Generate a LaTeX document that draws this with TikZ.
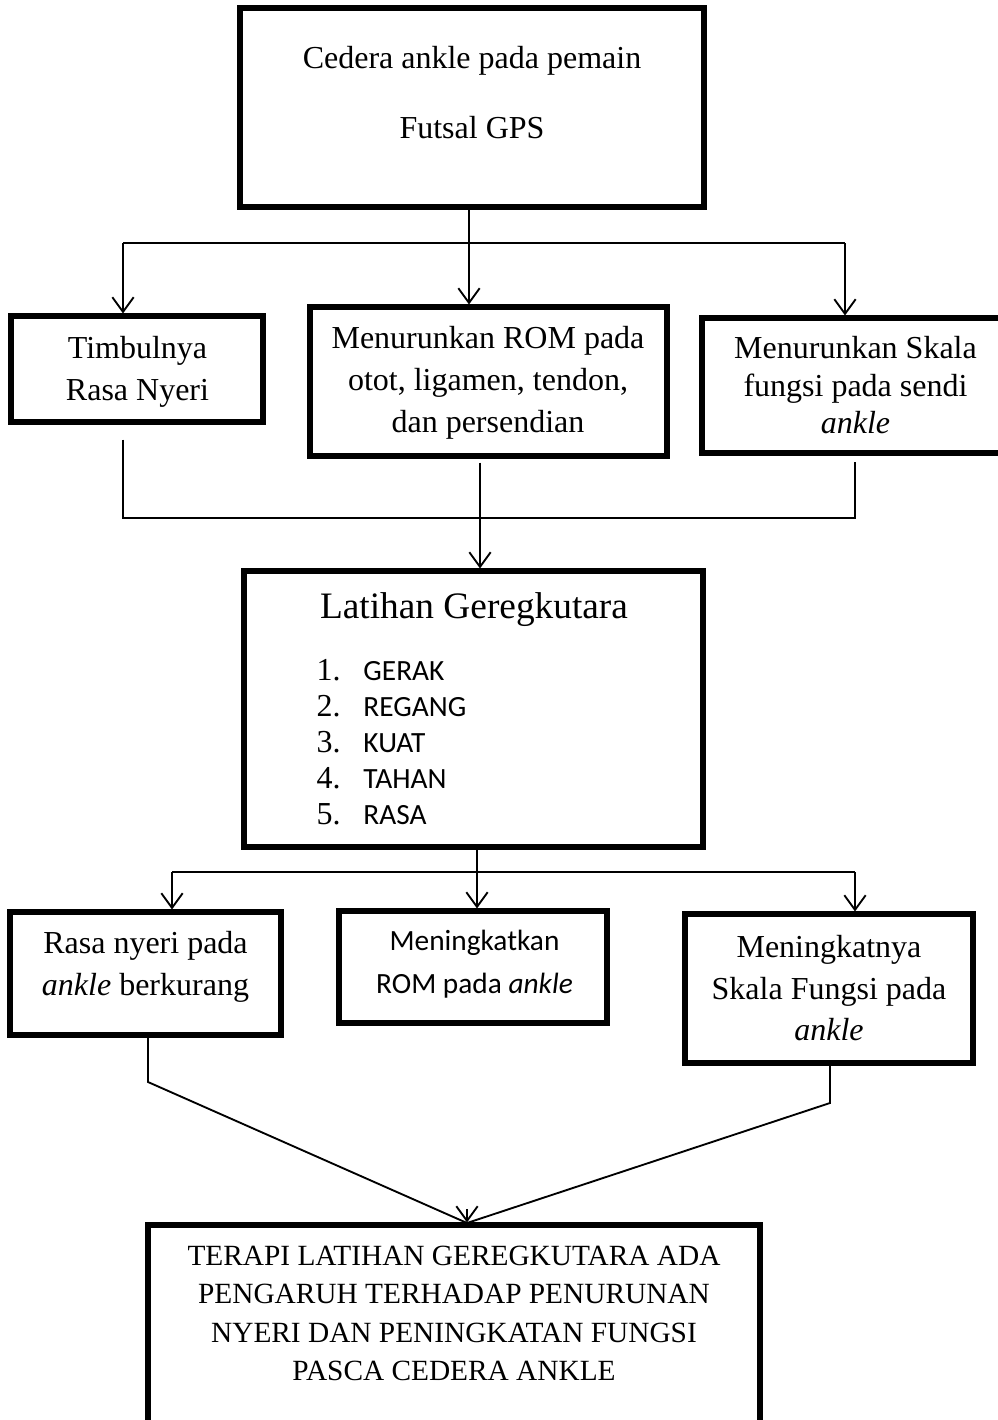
\documentclass[tikz,border=0pt]{standalone}
\usepackage{fontspec}
\setmainfont{Liberation Serif}
\newfontfamily\carlito{Carlito}
\usetikzlibrary{arrows.meta,calc}

\newcommand{\huruflist}{\carlito\fontsize{11}{13.5}\selectfont}

\tikzset{
  kotak/.style 2 args={draw, line width=1.9pt, inner sep=0pt,
    minimum width=#1*0.375pt, minimum height=#2*0.375pt},
  teks/.style={align=center, anchor=north, inner sep=0pt},
  garis/.style={line width=0.7pt},
  panah/.style={line width=0.7pt, -{Straight Barb[length=5.5pt,width=8pt]}}
}

\begin{document}
\begin{tikzpicture}[x=0.375pt, y=-0.375pt]
  \useasboundingbox (0,0) rectangle (998,1420);
  \clip (0,0) rectangle (998,1420);

  % Kotak atas: cedera ankle
  \node[kotak={464}{199}] (cedera) at (472,107.5) {};
  \node[teks, font=\fontsize{12}{26.25}\selectfont] (cedera-t) at (472,46)
    {Cedera ankle pada pemain\\Futsal GPS};

  % Baris kedua: tiga dampak cedera
  \node[kotak={252}{106}] (nyeri) at (137,369) {};
  \node[teks, font=\fontsize{12}{15.75}\selectfont] (nyeri-t) at (137.5,336)
    {Timbulnya\\Rasa Nyeri};

  \node[kotak={357}{149}] (rom) at (488.5,381.5) {};
  \node[teks, font=\fontsize{12}{15.75}\selectfont] (rom-t) at (488,326)
    {Menurunkan ROM pada\\otot, ligamen, tendon,\\dan persendian};

  \node[kotak={300}{135}] (skala) at (852,385.5) {};
  \node[teks, font=\fontsize{12}{14.1}\selectfont] (skala-t) at (855.5,336)
    {Menurunkan Skala\\fungsi pada sendi\\\textit{ankle}};

  % Kotak tengah: latihan
  \node[kotak={459}{276}] (latihan) at (473.5,709) {};
  \node[anchor=base, inner sep=0pt, font=\fontsize{14}{16}\selectfont] (judul) at (474,618)
    {Latihan Geregkutara};
  \node[anchor=north west, inner sep=0pt, align=left, font=\fontsize{12}{13.5}\selectfont]
    (daftar) at (316,658.4)
    {\makebox[17.6pt][l]{1.}{\huruflist GERAK}\\
     \makebox[17.6pt][l]{2.}{\huruflist REGANG}\\
     \makebox[17.6pt][l]{3.}{\huruflist KUAT}\\
     \makebox[17.6pt][l]{4.}{\huruflist TAHAN}\\
     \makebox[17.6pt][l]{5.}{\huruflist RASA}};

  % Baris keempat: hasil latihan
  \node[kotak={271}{123}] (berkurang) at (145.5,973.5) {};
  \node[teks, font=\fontsize{12}{15.75}\selectfont] (berkurang-t) at (145.5,931)
    {Rasa nyeri pada\\\textit{ankle} berkurang};

  \node[kotak={268}{112}] (meningkat) at (473,967) {};
  \node[teks, font=\carlito\fontsize{11}{16.1}\selectfont] (meningkat-t) at (474.5,929.5)
    {Meningkatkan\\ROM pada \textit{ankle}};

  \node[kotak={288}{149}] (fungsi) at (829,988.5) {};
  \node[teks, font=\fontsize{12}{15.6}\selectfont] (fungsi-t) at (829,935)
    {Meningkatnya\\Skala Fungsi pada\\\textit{ankle}};

  % Kotak bawah: kesimpulan
  \node[kotak={612}{215}] (hasil) at (454,1332.5) {};
  \node[teks, font=\fontsize{11}{14.4}\selectfont] (hasil-t) at (454,1245.6)
    {TERAPI LATIHAN GEREGKUTARA ADA\\PENGARUH TERHADAP PENURUNAN\\NYERI DAN PENINGKATAN FUNGSI\\PASCA CEDERA ANKLE};

  % Titik cabang
  \coordinate (c1) at (469,243);
  \coordinate (c1L) at (123,243);
  \coordinate (c1R) at (845,243);
  \coordinate (c2) at (480,518);
  \coordinate (c2L) at (123,518);
  \coordinate (c2R) at (855,518);
  \coordinate (c3) at (477,872);
  \coordinate (c3L) at (172,872);
  \coordinate (c3R) at (855,872);
  \coordinate (c4L) at (148,1082);
  \coordinate (c4R) at (830,1103);
  \coordinate (c4) at (467,1223);

  % Cabang dari kotak atas
  \draw[garis] (c1L) -- (c1R);
  \draw[panah] (cedera.south -| c1) -- (rom.north -| c1);
  \draw[panah] (c1L) -- (nyeri.north -| c1L);
  \draw[panah] (c1R) -- (skala.north -| c1R);

  % Gabungan menuju latihan
  \draw[garis] ($(nyeri.south -| c2L)+(0,15)$) -- (c2L) -- (c2R) -- ($(skala.south -| c2R)+(0,6)$);
  \draw[garis] ($(rom.south -| c2)+(0,4)$) -- (c2);
  \draw[panah] (c2) -- (latihan.north -| c2);

  % Cabang dari latihan
  \draw[garis] (latihan.south -| c3) -- (c3);
  \draw[garis] (c3L) -- (c3R);
  \draw[panah] (c3) -- (meningkat.north -| c3);
  \draw[panah] (c3L) -- (berkurang.north -| c3L);
  \draw[panah] (c3R) -- (fungsi.north -| c3R);

  % Gabungan menuju kesimpulan
  \draw[garis] (berkurang.south -| c4L) -- (c4L) -- (c4);
  \draw[garis] (fungsi.south -| c4R) -- (c4R) -- (c4);
  \draw[panah] ($(c4)+(0,-14)$) -- (hasil.north -| c4);
\end{tikzpicture}
\end{document}
